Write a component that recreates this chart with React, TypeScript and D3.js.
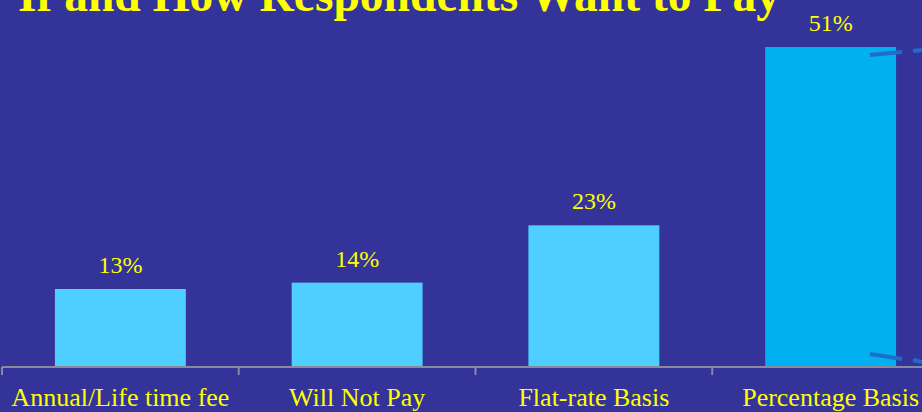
import React from "react";
import * as d3 from "d3";

const categories = ["Annual/Life time fee", "Will Not Pay", "Flat-rate Basis", "Percentage Basis"];
const values = [13, 14, 23, 51];
const valueLabels = ["13%", "14%", "23%", "51%"];
const barColors = ["#4FCFFF", "#4FCFFF", "#4FCFFF", "#00B0F0"];
const title = "If and How Respondents Want to Pay";

const W = 922;
const H = 412;

export default function App() {
  const x = d3.scaleBand<string>().domain(categories).range([2, 2 + 236.75 * 4]).paddingInner(0.447).paddingOuter(0.2235);
  const y = d3.scaleLinear().domain([0.75, 51]).range([367, 47]);
  const font = "'Liberation Serif', 'Times New Roman', serif";
  const tickXs = [0, 1, 2, 3].map((i) => 2 + i * 236.75);
  return (
    <svg width={W} height={H} style={{ position: "absolute", left: 0, top: 0 }}>
      <rect x={0} y={0} width={W} height={H} fill="#333399" />
      <text x={18} y={11} fill="#FFFF00" fontFamily={font} fontWeight="bold" fontSize={47.5}>
        {title}
      </text>
      {categories.map((c, i) => (
        <g key={c}>
          <rect x={x(c)} y={y(values[i])} width={x.bandwidth()} height={y(0.75) - y(values[i])} fill={barColors[i]} />
          <text
            x={(x(c) as number) + x.bandwidth() / 2}
            y={y(values[i]) - 16}
            textAnchor="middle"
            fill="#FFFF00"
            fontFamily={font}
            fontSize={24}
          >
            {valueLabels[i]}
          </text>
          <text
            x={(x(c) as number) + x.bandwidth() / 2}
            y={406}
            textAnchor="middle"
            fill="#FFFF00"
            fontFamily={font}
            fontSize={26}
          >
            {c}
          </text>
        </g>
      ))}
      <line x1={2} x2={W} y1={367} y2={367} stroke="#8A8A9A" strokeWidth={2} />
      {tickXs.map((tx, i) => (
        <line key={i} x1={tx} x2={tx} y1={367} y2={375} stroke="#8A8A9A" strokeWidth={2} />
      ))}
      <g stroke="#1F6CCB" strokeWidth={4}>
        <line x1={870} y1={55} x2={902} y2={52} />
        <line x1={913} y1={51} x2={922} y2={50} />
        <line x1={870} y1={354} x2={902} y2={359} />
        <line x1={913} y1={360} x2={922} y2={362} />
      </g>
    </svg>
  );
}
